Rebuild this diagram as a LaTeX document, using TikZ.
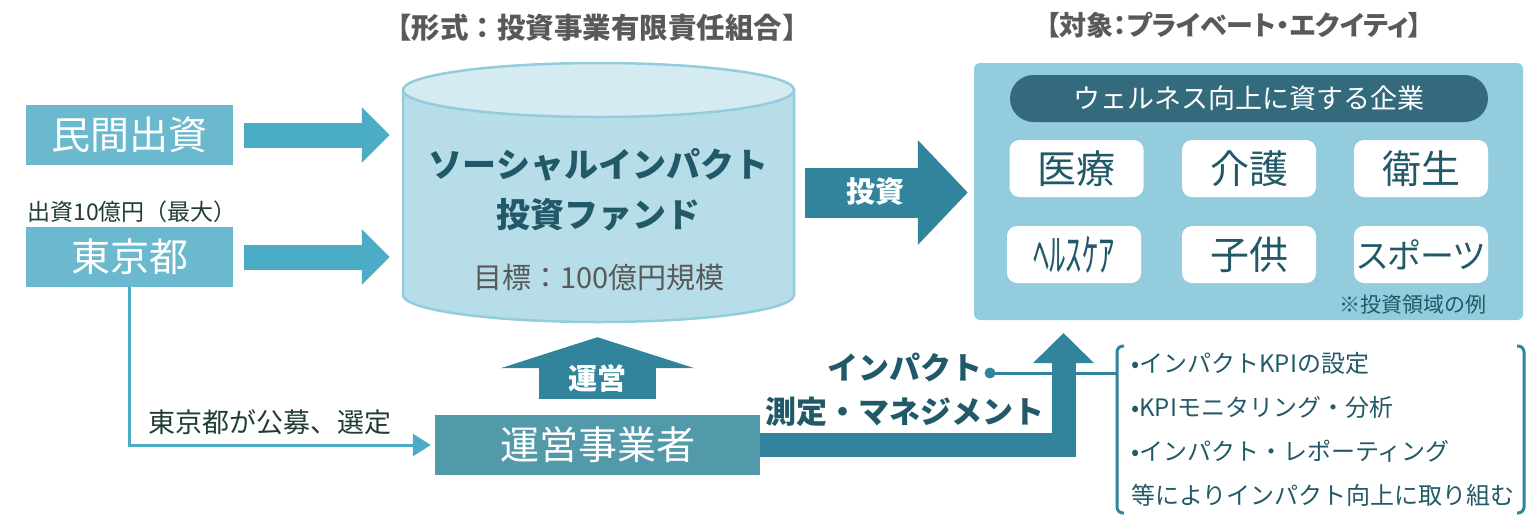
\documentclass[tikz,border=0pt]{standalone}
\usepackage{fontspec}
\setmainfont{Noto Sans CJK JP}
\usetikzlibrary{arrows.meta,calc}

\definecolor{srcfill}{HTML}{6BB9CF}
\definecolor{feedblue}{HTML}{4BACC6}
\definecolor{fundfill}{HTML}{B7DEE8}
\definecolor{fundcap}{HTML}{D4EBF2}
\definecolor{fundedge}{HTML}{93CDDD}
\definecolor{tealdark}{HTML}{31849B}
\definecolor{panelblue}{HTML}{93CDDD}
\definecolor{pillfill}{HTML}{336B7C}
\definecolor{inktext}{HTML}{215968}
\definecolor{opfill}{HTML}{5299A9}
\definecolor{graytext}{HTML}{595959}
\definecolor{notegreen}{HTML}{1F3D33}

\tikzset{
  heading/.style={text=graytext, font=\fontsize{28.5}{28.5}\selectfont\bfseries, inner sep=0pt},
  srcbox/.style={fill=srcfill, text=white, minimum width=207pt, minimum height=60pt,
    inner sep=0pt, font=\fontsize{39}{39}\selectfont},
  note/.style={text=notegreen, inner sep=0pt, font=\fontsize{23}{23}\selectfont},
  feedarrow/.style={feedblue, line width=25pt, -{Triangle[length=28pt,width=54pt]}},
  darkarrow/.style={tealdark},
  fundbody/.style={fill=fundfill, draw=fundedge, line width=2.5pt},
  fundtop/.style={fill=fundcap, draw=fundedge, line width=2.5pt},
  fundtitle/.style={text=inktext, align=center, inner sep=0pt,
    font=\fontsize{34}{50}\selectfont\bfseries},
  fundsub/.style={text=graytext, inner sep=0pt, font=\fontsize{29}{29}\selectfont},
  panel/.style={fill=panelblue, rounded corners=6pt, minimum width=549pt,
    minimum height=257pt, inner sep=0pt},
  pill/.style={fill=pillfill, text=white, rounded corners=23.5pt, minimum width=478pt,
    minimum height=47pt, inner sep=0pt, font=\fontsize{27}{27}\selectfont},
  field/.style={fill=white, text=inktext, rounded corners=10pt, minimum width=134pt,
    minimum height=57pt, inner sep=0pt, font=\fontsize{39}{39}\selectfont},
  remark/.style={text=inktext, inner sep=0pt, font=\fontsize{21}{21}\selectfont},
  arrowlabel/.style={text=white, inner sep=0pt, font=\fontsize{29}{29}\selectfont\bfseries},
  opbox/.style={fill=opfill, text=white, minimum width=325pt, minimum height=60pt,
    inner sep=0pt, font=\fontsize{39}{39}\selectfont},
  selectline/.style={feedblue, line width=3pt, -{Triangle[length=18pt,width=22pt]}},
  leader/.style={tealdark, line width=3pt},
  bracket/.style={tealdark, line width=3pt, rounded corners=6pt},
  impact/.style={text=inktext, align=center, inner sep=0pt,
    font=\fontsize{31}{44}\selectfont\bfseries},
  kpilist/.style={text=inktext, align=left, inner sep=0pt,
    font=\fontsize{24}{44}\selectfont},
}

\begin{document}
\begin{tikzpicture}[x=1pt,y=-1pt]
  \useasboundingbox (0,0) rectangle (1531,528);

  % headings
  \node[heading] (formhead) at (597,28) {【形式：投資事業有限責任組合】};
  \node[heading, font=\fontsize{27}{27}\selectfont\bfseries\addfontfeature{RawFeature=+palt}]
    (targethead) at (1234,25) {【対象：プライベート・エクイティ】};

  % investors
  \node[srcbox] (private) at (129.5,135) {民間出資};
  \node[srcbox] (tokyo) at (129.5,257) {東京都};
  \node[note] (cap) at (132,212) {出資10億円（最大）};

  % the fund (cylinder)
  \node[minimum width=391pt, minimum height=259pt, inner sep=0pt] (fund) at (598.5,192.5) {};
  \filldraw[fundbody] (403,90) -- (403,295)
    arc[start angle=180, end angle=0, x radius=195.5, y radius=27] -- (794,90) -- cycle;
  \filldraw[fundtop] (598.5,90) ellipse[x radius=195.5, y radius=27];
  \node[fundtitle] (fundname) at (598.5,190) {ソーシャルインパクト\\投資ファンド};
  \node[fundsub] (goal) at (599,277) {目標：100億円規模};

  \draw[feedarrow] ([xshift=11pt]private.east) -- ($(fund.west |- private.east)+(-13,0)$);
  \draw[feedarrow] ([xshift=11pt]tokyo.east) -- ($(fund.west |- tokyo.east)+(-13,0)$);

  % target companies
  \node[panel] (target) at (1248.5,191.5) {};
  \node[pill] (wellness) at (1249,98.5) {ウェルネス向上に資する企業};
  \node[field] (medical) at (1076.5,168.5) {医療};
  \node[field] (care) at (1249,168.5) {介護};
  \node[field] (hygiene) at (1421,168.5) {衛生};
  \node[field, font=\fontsize{37}{37}\selectfont] (health) at (1074,254.5)
    {\scalebox{0.88}[1.22]{ﾍﾙｽｹｱ}};
  \node[field] (kids) at (1249,254.5) {子供};
  \node[field, font=\fontsize{34}{34}\selectfont\addfontfeature{RawFeature=+palt}]
    (sports) at (1421,254.5) {スポーツ};
  \node[remark] (example) at (1413,305) {※投資領域の例};

  % investment
  \draw[darkarrow, line width=50pt, -{Triangle[length=50pt,width=102pt]}]
    ([xshift=11pt]fund.east) -- ($(target.west |- fund.east)+(-6,0)$);
  \node[arrowlabel] (invest) at (875,192) {投資};

  % operator
  \node[opbox] (operator) at (597.5,445) {運営事業者};
  \draw[darkarrow, line width=117pt, -{Triangle[length=31pt,width=193pt]}]
    ([yshift=16pt]operator.north) -- ($(operator.north |- fund.south)+(0,15)$);
  \node[arrowlabel] (run) at (597,378) {運営};

  \draw[selectline] (tokyo.south) |- ([xshift=-4pt]operator.west);
  \node[note, font=\fontsize{27}{27}\selectfont] (select) at (270,422) {東京都が公募、選定};

  % impact management
  \node[kpilist, anchor=west] (kpi) at (1131,429)
    {•インパクトKPIの設定\\•KPIモニタリング・分析\\•インパクト・レポーティング\\等によりインパクト向上に取り組む};
  \draw[bracket] (1124,346) -- (1117,346) -- (1117,513) -- (1124,513);
  \draw[bracket] (1517,346) -- (1524,346) -- (1524,513) -- (1517,513);

  \coordinate (dot) at (990,373);
  \coordinate (brk) at (1117,373);
  \coordinate (uptip) at (1063.5,333);
  \draw[leader] (dot) -- (brk);
  \fill[tealdark] (dot) circle (5.5);
  \draw[darkarrow, line width=24pt, line join=miter, -{Triangle[length=30pt,width=59pt]}]
    (operator.east) -| (uptip);
  \node[impact] (impact) at (905,390) {インパクト\\測定・マネジメント};
\end{tikzpicture}
\end{document}
